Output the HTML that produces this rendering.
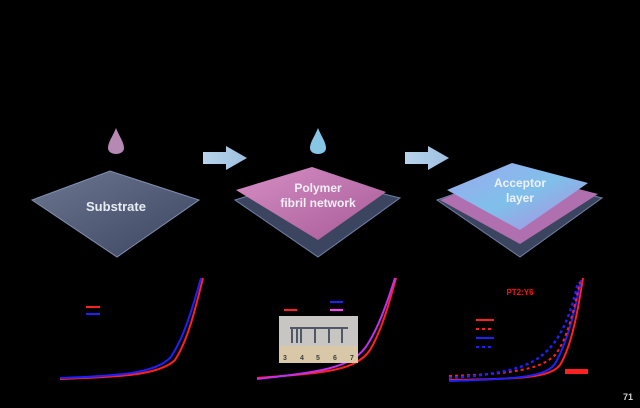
<!DOCTYPE html>
<html><head><style>
html,body{margin:0;padding:0;background:#000;}
svg{display:block;}
text{font-family:"Liberation Sans",sans-serif;font-weight:bold;}
</style></head><body>
<svg width="640" height="408" viewBox="0 0 640 408">
<defs>
<linearGradient id="sub" x1="0" y1="0" x2="1" y2="1">
<stop offset="0" stop-color="#6b7690"/><stop offset="1" stop-color="#3c4560"/></linearGradient>
<linearGradient id="pink" x1="0" y1="0" x2="1" y2="1">
<stop offset="0" stop-color="#d58fc4"/><stop offset="1" stop-color="#a85a98"/></linearGradient>
<linearGradient id="acc" x1="0" y1="0" x2="1" y2="1">
<stop offset="0" stop-color="#9ea8f0"/><stop offset="0.5" stop-color="#7fc0ea"/><stop offset="1" stop-color="#b08ae0"/></linearGradient>
<linearGradient id="arr" x1="0" y1="0" x2="1" y2="0">
<stop offset="0" stop-color="#b8d4ec"/><stop offset="1" stop-color="#9ec0e0"/></linearGradient>
</defs>
<!-- drops -->
<path d="M116,128 C113,136 108,142 108,148 C108,156 124,156 124,148 C124,142 119,136 116,128Z" fill="#b688b4"/>
<path d="M318,128 C315,136 310,142 310,148 C310,156 326,156 326,148 C326,142 321,136 318,128Z" fill="#88c6e6"/>
<!-- arrows -->
<path d="M203,152 H226 V146 L247,158 L226,170 V164 H203Z" fill="url(#arr)"/>
<path d="M405,152 H428 V146 L449,158 L428,170 V164 H405Z" fill="url(#arr)"/>
<!-- panel 1 -->
<polygon points="32,200 110,171 199,200 117,257" fill="url(#sub)" stroke="#8090b0" stroke-width="1"/>
<text x="116" y="211" fill="#e8ecf4" font-size="13" text-anchor="middle">Substrate</text>
<!-- panel 2 -->
<polygon points="235,200 312,176 400,198 318,257" fill="#3c4560" stroke="#7080a8"/>
<polygon points="236,190 312,167 386,192 318,240" fill="url(#pink)"/>
<text x="318" y="192" fill="#f2f0f4" font-size="12" text-anchor="middle">Polymer</text>
<text x="318" y="207" fill="#f2f0f4" font-size="12" text-anchor="middle">fibril network</text>
<!-- panel 3 -->
<polygon points="437,200 512,174 602,198 520,257" fill="#3c4560" stroke="#7080a8"/>
<polygon points="440,200 512,172 598,194 520,244" fill="#b070b0"/>
<polygon points="447,190 512,163 588,183 520,230" fill="url(#acc)"/>
<text x="520" y="187" fill="#eef2f8" font-size="12" text-anchor="middle">Acceptor</text>
<text x="520" y="202" fill="#eef2f8" font-size="12" text-anchor="middle">layer</text>
<!-- plot 1 -->
<path d="M60,379 C120,377 160,375 175,360 C188,340 195,310 203,278" fill="none" stroke="#ff2020" stroke-width="2"/>
<path d="M60,378 C120,376 155,373 170,358 C183,340 192,310 201,278" fill="none" stroke="#2020ff" stroke-width="2"/>
<line x1="86" y1="307" x2="100" y2="307" stroke="#ff2020" stroke-width="2"/>
<line x1="86" y1="314" x2="100" y2="314" stroke="#2020ff" stroke-width="2"/>
<!-- plot 2 -->
<path d="M257,378 C320,373 355,372 370,350 C382,330 390,300 396,278" fill="none" stroke="#ff2020" stroke-width="2"/>
<path d="M257,379 C320,372 350,368 365,348 C378,330 388,300 395,278" fill="none" stroke="#c030f0" stroke-width="2"/>
<line x1="284" y1="310" x2="297" y2="310" stroke="#ff2020" stroke-width="2"/>
<line x1="330" y1="302" x2="343" y2="302" stroke="#2020ff" stroke-width="2"/>
<line x1="330" y1="310" x2="343" y2="310" stroke="#ff40ff" stroke-width="2"/>
<rect x="279" y="316" width="79" height="47" fill="#c8c6c2"/>
<rect x="279" y="346" width="79" height="17" fill="#d8c8a8"/>
<g stroke="#505868" stroke-width="2"><line x1="290" y1="328" x2="348" y2="328"/><line x1="292" y1="328" x2="292" y2="343"/><line x1="297" y1="328" x2="297" y2="343"/><line x1="301" y1="328" x2="301" y2="343"/><line x1="315" y1="328" x2="315" y2="343"/><line x1="329" y1="328" x2="329" y2="343"/><line x1="342" y1="328" x2="342" y2="343"/></g>
<g font-size="7" fill="#404040" font-weight="normal"><text x="283" y="360">3</text><text x="300" y="360">4</text><text x="316" y="360">5</text><text x="333" y="360">6</text><text x="350" y="360">7</text></g>
<!-- plot 3 -->
<path d="M449,380 C520,379 550,378 560,365 C572,345 578,310 583,278" fill="none" stroke="#ff2020" stroke-width="2"/>
<path d="M449,381 C520,379 548,377 556,362 C568,340 575,310 581,280" fill="none" stroke="#2020ff" stroke-width="2"/>
<path d="M449,376 C510,374 540,370 555,355 C567,340 574,310 580,282" fill="none" stroke="#ff2020" stroke-width="2" stroke-dasharray="3,3"/>
<path d="M449,378 C505,374 530,368 548,350 C563,335 572,310 578,282" fill="none" stroke="#2020ff" stroke-width="2.5" stroke-dasharray="3,3"/>
<text x="520" y="295" fill="#ff1010" font-size="8" text-anchor="middle">PT2:Y6</text>
<line x1="476" y1="320" x2="494" y2="320" stroke="#ff2020" stroke-width="2"/>
<line x1="476" y1="329" x2="494" y2="329" stroke="#ff2020" stroke-width="2" stroke-dasharray="3,3"/>
<line x1="476" y1="338" x2="494" y2="338" stroke="#2020ff" stroke-width="2"/>
<line x1="476" y1="347" x2="494" y2="347" stroke="#2020ff" stroke-width="2" stroke-dasharray="3,3"/>
<rect x="565" y="369" width="23" height="5" fill="#ff2020"/>
<text x="628" y="400" fill="#d0d0d0" font-size="9" text-anchor="middle">71</text>
</svg>
</body></html>
